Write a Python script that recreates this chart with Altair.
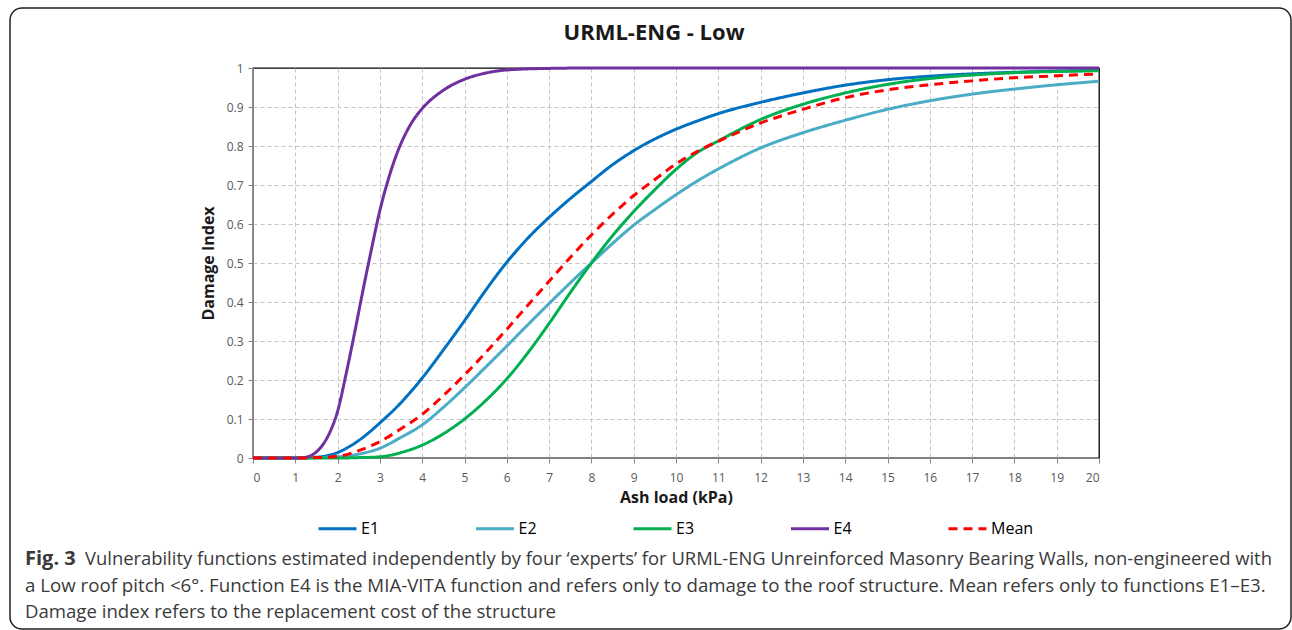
import altair as alt
import pandas as pd

# ---------------- data ----------------
series_names = ["E1", "E2", "E3", "E4", "Mean"]
series_colors = ["#0070C0", "#4BACC6", "#00B050", "#7030A0", "#FF0000"]
series_dashes = [[1, 0], [1, 0], [1, 0], [1, 0], [9, 6]]

x_main = [0, 1, 1.5, 2, 2.5, 3, 3.5, 4, 4.5, 5, 5.5, 6, 6.5, 7, 7.5, 8, 8.5, 9,
          9.5, 10, 10.5, 11, 12, 13, 14, 15, 16, 17, 18, 19, 20]
e1 = [0, 0, 0.002, 0.014, 0.045, 0.09, 0.142, 0.205, 0.277, 0.352, 0.43, 0.502,
      0.564, 0.617, 0.665, 0.709, 0.752, 0.788, 0.818, 0.843, 0.864, 0.883, 0.912,
      0.936, 0.956, 0.97, 0.979, 0.985, 0.989, 0.992, 0.994]
e2 = [0, 0, 0.001, 0.003, 0.01, 0.025, 0.053, 0.085, 0.13, 0.18, 0.233, 0.287,
      0.342, 0.396, 0.449, 0.5, 0.55, 0.597, 0.637, 0.675, 0.71, 0.741, 0.795,
      0.834, 0.866, 0.894, 0.916, 0.933, 0.946, 0.957, 0.966]
e3 = [0, 0, 0, 0, 0.001, 0.003, 0.014, 0.033, 0.062, 0.1, 0.147, 0.203, 0.27,
      0.345, 0.424, 0.5, 0.57, 0.632, 0.688, 0.74, 0.783, 0.813, 0.868, 0.907,
      0.936, 0.958, 0.973, 0.982, 0.988, 0.991, 0.993]
mean = [0, 0, 0.001, 0.004, 0.019, 0.042, 0.075, 0.112, 0.16, 0.213, 0.27,
        0.33, 0.392, 0.453, 0.514, 0.572, 0.625, 0.673, 0.714, 0.754, 0.786,
        0.812, 0.859, 0.894, 0.924, 0.944, 0.957, 0.967, 0.975, 0.98, 0.985]

x_e4 = [0, 1, 1.2, 1.4, 1.6, 1.8, 2.0, 2.2, 2.4, 2.6, 2.8, 3.0, 3.2, 3.4, 3.6,
        3.8, 4.0, 4.5, 5, 5.5, 6, 7, 8, 20]
e4 = [0, 0, 0.001, 0.008, 0.027, 0.062, 0.12, 0.215, 0.32, 0.43, 0.535, 0.635,
      0.715, 0.78, 0.83, 0.868, 0.896, 0.943, 0.971, 0.987, 0.995, 0.999, 1, 1]

x_ticks = list(range(0, 21))
y_ticks = [0, 0.1, 0.2, 0.3, 0.4, 0.5, 0.6, 0.7, 0.8, 0.9, 1]

chart_title = "URML-ENG - Low"
x_title = "Ash load (kPa)"
y_title = "Damage Index"
caption_bold = "Fig. 3"
caption_line1 = ("Vulnerability functions estimated independently by four \u2018experts\u2019 "
                 "for URML-ENG Unreinforced Masonry Bearing Walls, non-engineered with")
caption_line2 = ("a Low roof pitch <6\u00b0. Function E4 is the MIA-VITA function and refers "
                 "only to damage to the roof structure. Mean refers only to functions E1\u2013E3.")
caption_line3 = "Damage index refers to the replacement cost of the structure"

# ---------------- build table ----------------
rows = []
for name, xs, ys in [("E1", x_main, e1), ("E2", x_main, e2), ("E3", x_main, e3),
                     ("E4", x_e4, e4), ("Mean", x_main, mean)]:
    for xv, yv in zip(xs, ys):
        rows.append({"series": name, "load": xv, "damage": yv})
df = pd.DataFrame(rows)

FONT = "Open Sans"
W, H = 846, 390
PL, PT = 253, 68

legend = alt.Legend(
    title=None, orient="none", legendX=64, legendY=440, direction="horizontal",
    symbolType="stroke", symbolSize=1444, symbolStrokeWidth=3,
    labelFontSize=16, labelFont=FONT, labelColor="#000000", labelOffset=3,
    columnPadding=65.5, gridAlign="all", padding=0,
)

lines = alt.Chart(df).mark_line(interpolate="monotone", strokeWidth=3).encode(
    x=alt.X("load:Q", scale=alt.Scale(domain=[0, 20], nice=False),
            axis=alt.Axis(title=x_title, values=x_ticks, format="~g",
                          gridOpacity={"condition": {"test": "datum.value >= 20", "value": 0},
                                       "value": 1})),
    y=alt.Y("damage:Q", scale=alt.Scale(domain=[0, 1], nice=False),
            axis=alt.Axis(title=y_title, values=y_ticks, format="~g",
                          gridOpacity={"condition": {"test": "datum.value >= 1", "value": 0},
                                       "value": 1})),
    color=alt.Color("series:N", scale=alt.Scale(domain=series_names, range=series_colors),
                    legend=legend),
    strokeDash=alt.StrokeDash("series:N", scale=alt.Scale(domain=series_names, range=series_dashes),
                              legend=legend),
    order=alt.Order("load:Q"),
)

one = pd.DataFrame({"k": [0]})

border = alt.Chart(one).mark_rect(
    fillOpacity=0, stroke="#231F20", strokeWidth=1.5, cornerRadius=12
).encode(
    x=alt.value(10 - PL), x2=alt.value(1291 - PL),
    y=alt.value(8 - PT), y2=alt.value(629 - PT),
)

title_txt = alt.Chart(one).mark_text(
    text=chart_title, font=FONT, fontSize=22, fontWeight="bold", color="#1A1A1A",
    align="center", baseline="middle"
).encode(x=alt.value(654 - PL), y=alt.value(33 - PT))

cap_style = dict(font=FONT, color="#3A3A3A", align="left", baseline="middle")
cap_b = alt.Chart(one).mark_text(text=caption_bold, fontWeight="bold", fontSize=20,
                                 **cap_style).encode(
    x=alt.value(25 - PL), y=alt.value(559 - PT))
cap_1 = alt.Chart(one).mark_text(text=caption_line1, fontSize=18.4, **cap_style).encode(
    x=alt.value(85 - PL), y=alt.value(559 - PT))
cap_2 = alt.Chart(one).mark_text(text=caption_line2, fontSize=18.7, **cap_style).encode(
    x=alt.value(25 - PL), y=alt.value(586 - PT))
cap_3 = alt.Chart(one).mark_text(text=caption_line3, fontSize=18.6, **cap_style).encode(
    x=alt.value(25 - PL), y=alt.value(612 - PT))

chart = alt.layer(border, lines, title_txt, cap_b, cap_1, cap_2, cap_3).properties(
    width=W, height=H,
    autosize=alt.AutoSizeParams(type="none"),
    padding={"left": PL, "top": PT, "right": 1292 - PL - W, "bottom": 630 - PT - H},
    background="white",
).configure_view(
    stroke="#000000", strokeWidth=1.3
).configure_axis(
    labelFont=FONT, labelFontSize=12, labelColor="#595959",
    titleFont=FONT, titleFontSize=16, titleFontWeight="bold", titleColor="#1A1A1A",
    tickColor="#868686", tickSize=5, domainColor="#868686", domainWidth=1,
    gridColor="#C4C4C4", gridDash=[4, 3], gridWidth=1,
).configure_axisX(
    labelPadding=9, titlePadding=6,
).configure_axisY(
    labelPadding=5, titlePadding=10,
)

chart.save("out.html", embed_options={"renderer": "svg", "actions": False})
